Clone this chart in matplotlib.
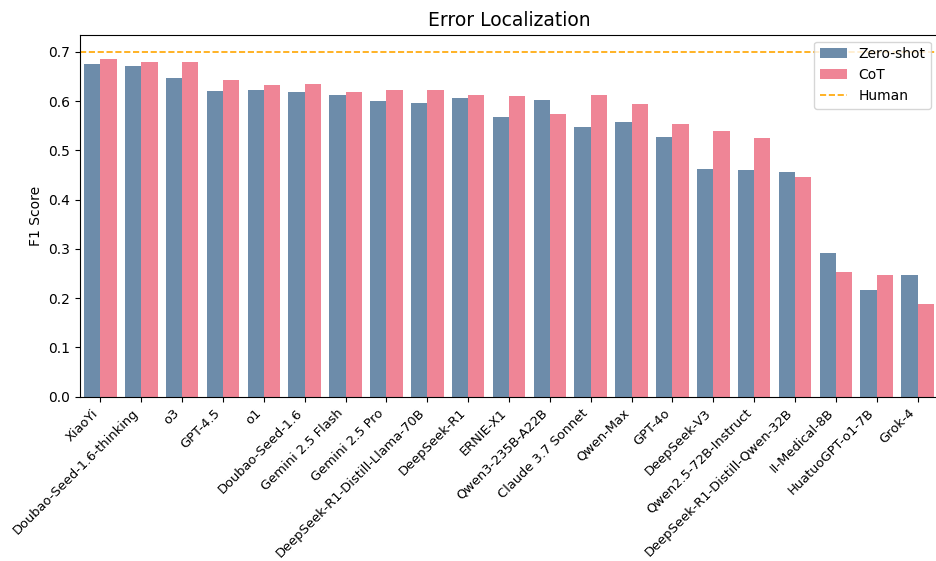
import matplotlib
matplotlib.use("Agg")
import matplotlib.pyplot as plt
import numpy as np

models = [
    "XiaoYi", "Doubao-Seed-1.6-thinking", "o3", "GPT-4.5", "o1",
    "Doubao-Seed-1.6", "Gemini 2.5 Flash", "Gemini 2.5 Pro",
    "DeepSeek-R1-Distill-Llama-70B", "DeepSeek-R1", "ERNIE-X1",
    "Qwen3-235B-A22B", "Claude 3.7 Sonnet", "Qwen-Max", "GPT-4o",
    "DeepSeek-V3", "Qwen2.5-72B-Instruct", "DeepSeek-R1-Distill-Qwen-32B",
    "II-Medical-8B", "HuatuoGPT-o1-7B", "Grok-4",
]
zero_shot = [0.676, 0.672, 0.647, 0.621, 0.623, 0.619, 0.613, 0.600, 0.596,
             0.606, 0.568, 0.602, 0.547, 0.558, 0.527, 0.462, 0.460, 0.456,
             0.291, 0.216, 0.248]
cot = [0.686, 0.680, 0.680, 0.643, 0.633, 0.635, 0.619, 0.623, 0.623,
       0.613, 0.610, 0.574, 0.613, 0.594, 0.554, 0.539, 0.525, 0.446,
       0.254, 0.248, 0.189]
human = 0.70

x = np.arange(len(models))
w = 0.4

fig = plt.figure(figsize=(9.36, 5.61), dpi=100)
ax = fig.add_axes([80 / 936, 1 - 396.7 / 561, 858 / 936, 362 / 561])

ax.bar(x - w / 2, zero_shot, w, color="#6d8caa", label="Zero-shot")
ax.bar(x + w / 2, cot, w, color="#ef8596", label="CoT")
ax.axhline(human, color="#ffa500", linestyle="--", linewidth=1.2, label="Human")

ax.set_xlim(-0.5, len(models) - 0.5)
ax.set_ylim(0, human * 1.05)
ax.set_xticks(x)
ax.set_xticklabels(models, rotation=45, ha="right", fontsize=9.4)
ax.set_ylabel("F1 Score")
ax.set_title("Error Localization", fontsize=13.5)

# keep legend order: bars first, then the human line
h, l = ax.get_legend_handles_labels()
order = [l.index("Zero-shot"), l.index("CoT"), l.index("Human")]
ax.legend([h[i] for i in order], [l[i] for i in order], loc="upper right")

fig.savefig("out.png", dpi=100)
